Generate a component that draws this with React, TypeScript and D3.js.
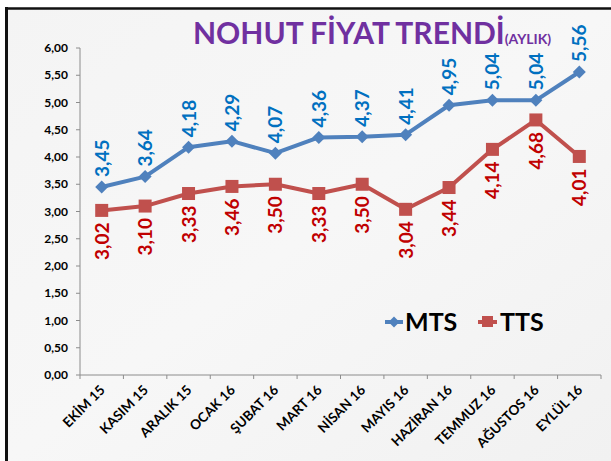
import React from "react";
import * as d3 from "d3";

const categories = ["EKİM 15", "KASIM 15", "ARALIK 15", "OCAK 16", "ŞUBAT 16", "MART 16", "NİSAN 16", "MAYIS 16", "HAZİRAN 16", "TEMMUZ 16", "AĞUSTOS 16", "EYLÜL 16"];
const mts = [3.45, 3.64, 4.18, 4.29, 4.07, 4.36, 4.37, 4.41, 4.95, 5.04, 5.04, 5.56];
const tts = [3.02, 3.10, 3.33, 3.46, 3.50, 3.33, 3.50, 3.04, 3.44, 4.14, 4.68, 4.01];
const yTicks = [0, 0.5, 1, 1.5, 2, 2.5, 3, 3.5, 4, 4.5, 5, 5.5, 6];

const W = 611, H = 461;
const left = 80, right = 601, top = 48, bottom = 375;
const FONT = "Lato, 'Open Sans', sans-serif";
const BLUE = "#4F81BD", BLUE_T = "#0070C0", RED = "#C0504D", RED_T = "#C00000";

const fmt = (v: number) => v.toFixed(2).replace(".", ",");

export default function App() {
  const x = d3.scaleBand<string>().domain(categories).range([left, right]);
  const y = d3.scaleLinear().domain([0, 6]).range([bottom, top]);
  const cx = (c: string) => (x(c) as number) + x.bandwidth() / 2;
  const line = d3.line<number>().x((_, i) => cx(categories[i])).y((d) => y(d));
  const diamond = (px: number, py: number, r: number) => `M${px},${py - r}L${px + r},${py}L${px},${py + r}L${px - r},${py}Z`;

  return (
    <svg width={W} height={H} style={{ position: "absolute", left: 0, top: 0 }} fontFamily={FONT}>
      <defs>
        <linearGradient id="bg" x1="0" y1="0" x2="1" y2="1">
          <stop offset="0" stopColor="#f4f4f4" />
          <stop offset="0.5" stopColor="#f7f7f7" />
          <stop offset="1" stopColor="#f1f1f1" />
        </linearGradient>
      </defs>
      <rect x={0} y={0} width={W} height={H} fill="#ffffff" />
      <rect x={6} y={8} width={W - 6} height={H - 8} fill="url(#bg)" />
      <line x1={5} y1={8.5} x2={W} y2={8.5} stroke="#111" strokeWidth={2.5} />
      <line x1={6.5} y1={7} x2={6.5} y2={H} stroke="#111" strokeWidth={3} />

      {/* title */}
      <text x={193} y={44} fill="#7030A0" fontWeight="bold" fontSize={30}>
        NOHUT FİYAT TRENDİ<tspan fontSize={14}>(AYLIK)</tspan>
      </text>

      {/* axes */}
      <line x1={left} y1={top} x2={left} y2={bottom} stroke="#8c8c8c" strokeWidth={1} />
      <line x1={left} y1={bottom} x2={right} y2={bottom} stroke="#8c8c8c" strokeWidth={1} />
      {yTicks.map((t) => (
        <g key={t}>
          <line x1={left - 4} x2={left} y1={y(t)} y2={y(t)} stroke="#8c8c8c" />
          <text x={68} y={y(t)} dy="0.35em" textAnchor="end" fontSize={12} fontWeight="bold" fill="#000">{fmt(t)}</text>
        </g>
      ))}
      {categories.map((c, i) => (
        <g key={c}>
          <line x1={(x(c) as number)} x2={(x(c) as number)} y1={bottom} y2={bottom + 4} stroke="#8c8c8c" />
          {i === categories.length - 1 && <line x1={right} x2={right} y1={bottom} y2={bottom + 4} stroke="#8c8c8c" />}
          <text transform={`translate(${cx(c) + 4},${bottom + 16}) rotate(-45)`} textAnchor="end" fontSize={13.5} fontWeight="bold" fill="#000">{c}</text>
        </g>
      ))}

      {/* series */}
      <path d={line(mts) as string} fill="none" stroke={BLUE} strokeWidth={4} strokeLinejoin="round" />
      <path d={line(tts) as string} fill="none" stroke={RED} strokeWidth={4} strokeLinejoin="round" />
      {mts.map((v, i) => (
        <path key={"m" + i} d={diamond(cx(categories[i]), y(v), 6.5)} fill={BLUE} />
      ))}
      {tts.map((v, i) => (
        <rect key={"t" + i} x={cx(categories[i]) - 6.5} y={y(v) - 6.5} width={13} height={13} fill={RED} />
      ))}
      {mts.map((v, i) => (
        <text key={"ml" + i} transform={`translate(${cx(categories[i]) + 7},${y(v) - 10}) rotate(-90)`} fontSize={19} fontWeight="bold" fill={BLUE_T}>{fmt(v)}</text>
      ))}
      {tts.map((v, i) => (
        <text key={"tl" + i} transform={`translate(${cx(categories[i]) + 7},${y(v) + 12}) rotate(-90)`} textAnchor="end" fontSize={19} fontWeight="bold" fill={RED_T}>{fmt(v)}</text>
      ))}

      {/* legend */}
      <line x1={385} x2={403} y1={322} y2={322} stroke={BLUE} strokeWidth={4} />
      <path d={diamond(394, 322, 5.5)} fill={BLUE} />
      <text x={405} y={331} fontSize={25} fontWeight="bold" fill="#000">MTS</text>
      <line x1={478} x2={497} y1={322} y2={322} stroke={RED} strokeWidth={4} />
      <rect x={482} y={316} width={11} height={11} fill={RED} />
      <text x={500} y={331} fontSize={25} fontWeight="bold" fill="#000">TTS</text>
    </svg>
  );
}
